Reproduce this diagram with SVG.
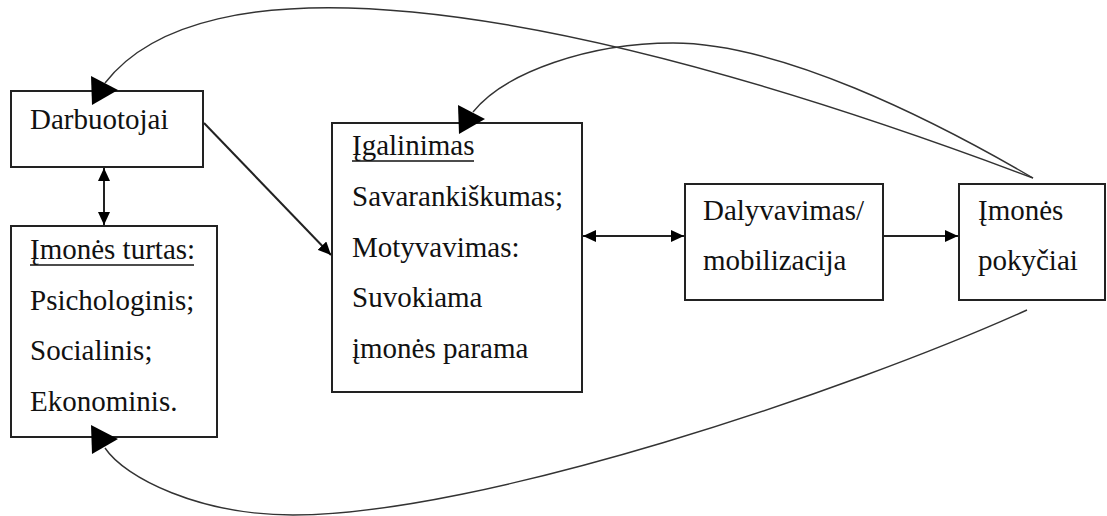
<svg xmlns="http://www.w3.org/2000/svg" xmlns:xlink="http://www.w3.org/1999/xlink" width="1107" height="516" viewBox="0 0 1107 516">
  <style>
    .box { fill: #fff; stroke: #222; stroke-width: 2; }
    .lbl { font-family: 'Liberation Serif', 'DejaVu Serif', serif; font-size: 29px; fill: #111; }
    .uline { stroke: #111; stroke-width: 1.5; }
    .conn { fill: none; stroke: #222; stroke-width: 2; }
    .curve { fill: none; stroke: #333; stroke-width: 1.4; }
    .head { fill: #000; }
  </style>
  <defs>
    <marker id="arrow" markerUnits="userSpaceOnUse" viewBox="0 0 13 12" refX="13" refY="6" markerWidth="13" markerHeight="12" orient="auto-start-reverse">
      <path d="M0,0 L13,6 L0,12 Z" fill="#000"/>
    </marker>
    <path id="bigHead" class="head" d="M0,0 L27,14 L1,29 Z"/>
  </defs>

  <!-- nodes -->
  <g id="darbuotojai">
    <rect class="box" x="11" y="91" width="192" height="76"/>
    <text class="lbl" font-family="Liberation Serif, serif" x="30" y="129">Darbuotojai</text>
  </g>

  <g id="imones-turtas">
    <rect class="box" x="11" y="226" width="206" height="211"/>
    <text class="lbl" font-family="Liberation Serif, serif" x="30" y="259">Įmonės turtas:</text>
    <line class="uline" x1="30" y1="265" x2="194" y2="265"/>
    <text class="lbl" font-family="Liberation Serif, serif" x="30" y="310">Psichologinis;</text>
    <text class="lbl" font-family="Liberation Serif, serif" x="30" y="360">Socialinis;</text>
    <text class="lbl" font-family="Liberation Serif, serif" x="30" y="411">Ekonominis.</text>
  </g>

  <g id="igalinimas">
    <rect class="box" x="332" y="123" width="250" height="269"/>
    <text class="lbl" font-family="Liberation Serif, serif" x="352" y="155">Įgalinimas</text>
    <line class="uline" x1="352" y1="161" x2="474" y2="161"/>
    <text class="lbl" font-family="Liberation Serif, serif" x="352" y="206">Savarankiškumas;</text>
    <text class="lbl" font-family="Liberation Serif, serif" x="352" y="257">Motyvavimas:</text>
    <text class="lbl" font-family="Liberation Serif, serif" x="352" y="307">Suvokiama</text>
    <text class="lbl" font-family="Liberation Serif, serif" x="352" y="358">įmonės parama</text>
  </g>

  <g id="dalyvavimas">
    <rect class="box" x="685" y="184" width="198" height="116"/>
    <text class="lbl" font-family="Liberation Serif, serif" x="703" y="220">Dalyvavimas/</text>
    <text class="lbl" font-family="Liberation Serif, serif" x="703" y="270">mobilizacija</text>
  </g>

  <g id="imones-pokyciai">
    <rect class="box" x="959" y="184" width="146" height="116"/>
    <text class="lbl" font-family="Liberation Serif, serif" x="978" y="220">Įmonės</text>
    <text class="lbl" font-family="Liberation Serif, serif" x="978" y="270">pokyčiai</text>
  </g>

  <!-- connectors -->
  <g id="connectors">
    <line class="conn" x1="104" y1="168" x2="104" y2="225" marker-start="url(#arrow)" marker-end="url(#arrow)"/>
    <line class="conn" x1="204" y1="123" x2="331" y2="255" stroke-width="1.6" marker-end="url(#arrow)"/>
    <line class="conn" x1="583" y1="236" x2="684" y2="236" marker-start="url(#arrow)" marker-end="url(#arrow)"/>
    <line class="conn" x1="883" y1="236" x2="958" y2="236" marker-end="url(#arrow)"/>

    <!-- feedback loops from the right-hand node -->
    <path class="curve" d="M1033,178 C520,-15 200,-40 105,83"/>
    <use xlink:href="#bigHead" x="91" y="76"/>

    <path class="curve" d="M1033,178 C930,118 780,43 673,43 C590,43 505,72 473,112"/>
    <use xlink:href="#bigHead" x="458" y="105"/>

    <path class="curve" d="M1027,310 C850,390 480,515 293,515 C200,515 125,478 105,448"/>
    <use xlink:href="#bigHead" x="91" y="425"/>
  </g>
</svg>
